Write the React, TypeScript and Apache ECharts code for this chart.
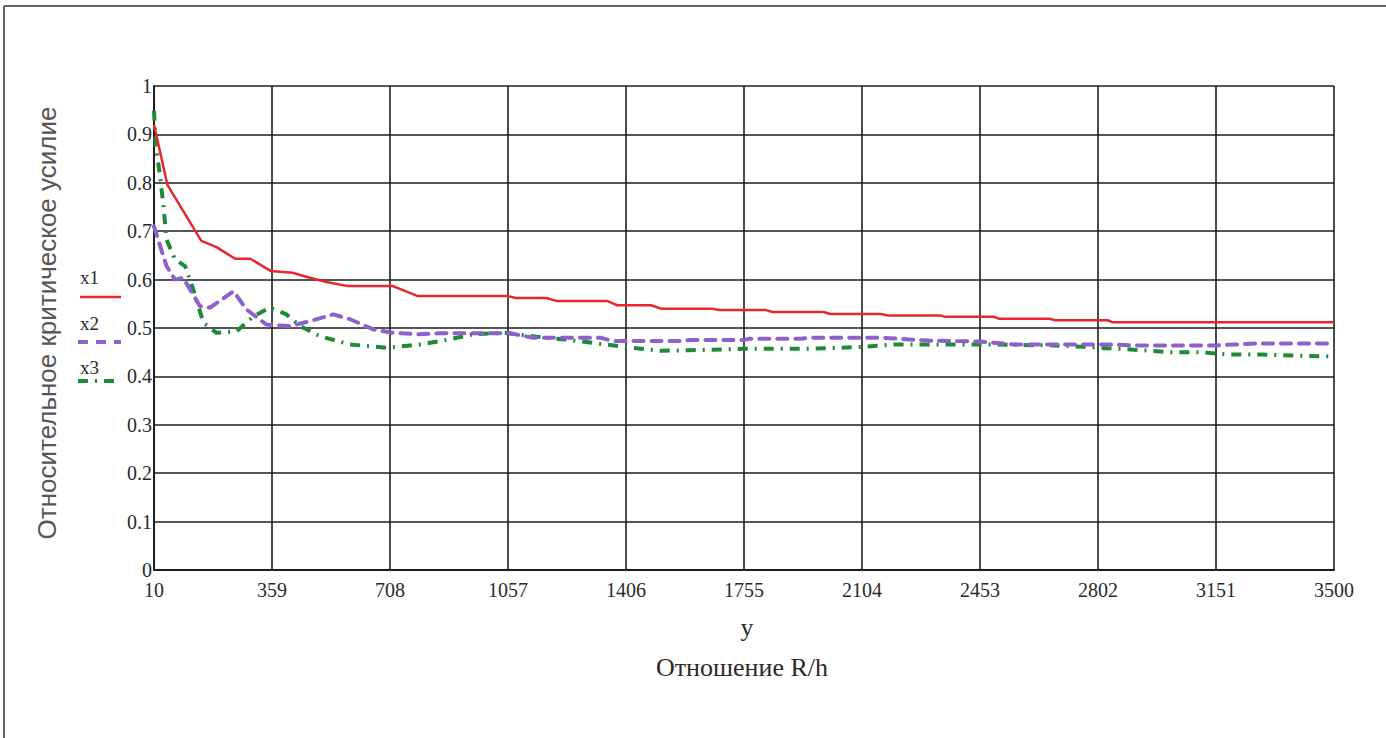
import React, { useEffect, useRef } from "react";
import * as echarts from "echarts";

// x-axis tick values (R/h)
const xTicks = [10, 359, 708, 1057, 1406, 1755, 2104, 2453, 2802, 3151, 3500];
const yTicks = [0, 0.1, 0.2, 0.3, 0.4, 0.5, 0.6, 0.7, 0.8, 0.9, 1];

// x1 (red, solid)
const x1R = [10, 50, 150, 195, 250, 295, 355, 420, 465, 520, 580, 715, 790, 1055, 1080, 1170, 1200, 1350, 1380, 1480, 1510, 1660, 1680, 1820, 1840, 1990, 2010, 2160, 2180, 2335, 2350, 2495, 2510, 2660, 2675, 2830, 2845, 3500];
const x1V = [0.92, 0.795, 0.68, 0.667, 0.643, 0.643, 0.618, 0.614, 0.605, 0.595, 0.587, 0.587, 0.566, 0.566, 0.562, 0.562, 0.556, 0.556, 0.547, 0.547, 0.54, 0.54, 0.537, 0.537, 0.533, 0.533, 0.529, 0.529, 0.526, 0.526, 0.523, 0.523, 0.519, 0.519, 0.516, 0.516, 0.512, 0.512];

// x2 (purple, dashed)
const x2R = [10, 47, 72, 96, 146, 176, 245, 284, 343, 412, 471, 540, 590, 659, 718, 792, 850, 1063, 1131, 1330, 1368, 1566, 1596, 1752, 1773, 1921, 1950, 2157, 2300, 2453, 2551, 2847, 2897, 3143, 3273, 3500];
const x2V = [0.71, 0.628, 0.6, 0.604, 0.545, 0.542, 0.576, 0.538, 0.507, 0.504, 0.514, 0.528, 0.518, 0.497, 0.49, 0.487, 0.489, 0.489, 0.48, 0.48, 0.473, 0.473, 0.475, 0.475, 0.478, 0.478, 0.48, 0.48, 0.474, 0.472, 0.466, 0.466, 0.464, 0.464, 0.468, 0.468];

// x3 (green, dash-dot)
const x3R = [10, 15, 28, 38, 47, 72, 102, 126, 156, 195, 254, 304, 353, 402, 442, 501, 590, 698, 767, 797, 866, 955, 1048, 1141, 1230, 1323, 1412, 1506, 1590, 1752, 1950, 2107, 2200, 2480, 2670, 2760, 2936, 3015, 3104, 3193, 3286, 3379, 3500];
const x3V = [0.949, 0.876, 0.814, 0.752, 0.683, 0.642, 0.628, 0.58, 0.511, 0.49, 0.493, 0.524, 0.542, 0.528, 0.504, 0.483, 0.466, 0.459, 0.464, 0.466, 0.474, 0.487, 0.49, 0.482, 0.476, 0.468, 0.46, 0.453, 0.454, 0.457, 0.457, 0.461, 0.466, 0.466, 0.464, 0.461, 0.454, 0.45, 0.45, 0.445, 0.445, 0.443, 0.441];

const pairs = (xs: number[], ys: number[]) => xs.map((x, i) => [x, ys[i]]);

export default function App() {
  const ref = useRef<HTMLDivElement>(null);
  useEffect(() => {
    const chart = echarts.init(ref.current!, null, { renderer: "svg" });
    const serif = "'Liberation Serif', 'Times New Roman', serif";
    const sans = "'Liberation Sans', Arial, sans-serif";
    const gridColor = "#1e1e1e";
    chart.setOption({
      animation: false,
      backgroundColor: "#ffffff",
      grid: { left: 154, right: 52, top: 86, bottom: 168, containLabel: false },
      xAxis: {
        type: "value",
        min: xTicks[0],
        max: xTicks[xTicks.length - 1],
        interval: xTicks[1] - xTicks[0],
        axisLine: { show: true, lineStyle: { color: gridColor, width: 2 } },
        axisTick: { show: false },
        axisLabel: {
          color: "#2a2a2a",
          fontFamily: serif,
          fontSize: 20,
          margin: 10,
          formatter: (v: number) => String(Math.round(v)),
        },
        splitLine: { show: true, lineStyle: { color: gridColor, width: 1.6 } },
      },
      yAxis: {
        type: "value",
        min: yTicks[0],
        max: yTicks[yTicks.length - 1],
        interval: 0.1,
        axisLine: { show: true, lineStyle: { color: gridColor, width: 2 } },
        axisTick: { show: false },
        axisLabel: {
          color: "#2a2a2a",
          fontFamily: serif,
          fontSize: 20,
          margin: 2,
          formatter: (v: number) => String(+v.toFixed(1)),
        },
        splitLine: { show: true, lineStyle: { color: gridColor, width: 1.6 } },
      },
      series: [
        {
          name: "x1",
          type: "line",
          data: pairs(x1R, x1V),
          showSymbol: false,
          lineStyle: { color: "#e8262b", width: 2.5 },
          z: 5,
        },
        {
          name: "x2",
          type: "line",
          data: pairs(x2R, x2V),
          showSymbol: false,
          lineStyle: { color: "#8e60cc", width: 4, type: [10, 8], cap: "round" },
          z: 4,
        },
        {
          name: "x3",
          type: "line",
          data: pairs(x3R, x3V),
          showSymbol: false,
          lineStyle: { color: "#1d8a35", width: 4, type: [10, 7, 2, 7] },
          z: 3,
        },
      ],
      graphic: [
        { type: "line", shape: { x1: 4, y1: 6, x2: 1386, y2: 6 }, style: { stroke: "#666", lineWidth: 2 } },
        { type: "line", shape: { x1: 4, y1: 6, x2: 4, y2: 738 }, style: { stroke: "#666", lineWidth: 2 } },
        {
          type: "text",
          x: 47,
          y: 323,
          rotation: Math.PI / 2,
          style: { text: "Относительное критическое усилие", font: `26px ${sans}`, fill: "#555", align: "center", verticalAlign: "middle" },
        },
        { type: "text", x: 747, y: 627, style: { text: "y", font: `26px ${serif}`, fill: "#2a2a2a", align: "center", verticalAlign: "middle" } },
        { type: "text", x: 742, y: 667, style: { text: "Отношение R/h", font: `26px ${serif}`, fill: "#2a2a2a", align: "center", verticalAlign: "middle" } },
        { type: "text", x: 80, y: 277, style: { text: "x1", font: `19px ${serif}`, fill: "#2a2a2a", align: "left", verticalAlign: "middle" } },
        { type: "line", shape: { x1: 80, y1: 297, x2: 121, y2: 297 }, style: { stroke: "#e8262b", lineWidth: 2.5 } },
        { type: "text", x: 80, y: 323, style: { text: "x2", font: `19px ${serif}`, fill: "#2a2a2a", align: "left", verticalAlign: "middle" } },
        { type: "line", shape: { x1: 78, y1: 342, x2: 121, y2: 342 }, style: { stroke: "#8e60cc", lineWidth: 4, lineDash: [10, 8] } },
        { type: "text", x: 80, y: 367, style: { text: "x3", font: `19px ${serif}`, fill: "#2a2a2a", align: "left", verticalAlign: "middle" } },
        { type: "line", shape: { x1: 78, y1: 381, x2: 121, y2: 381 }, style: { stroke: "#1d8a35", lineWidth: 4, lineDash: [10, 7, 2, 7] } },
      ],
    });
    return () => chart.dispose();
  }, []);
  return <div ref={ref} style={{ position: "fixed", left: 0, top: 0, width: 1386, height: 738 }} />;
}
